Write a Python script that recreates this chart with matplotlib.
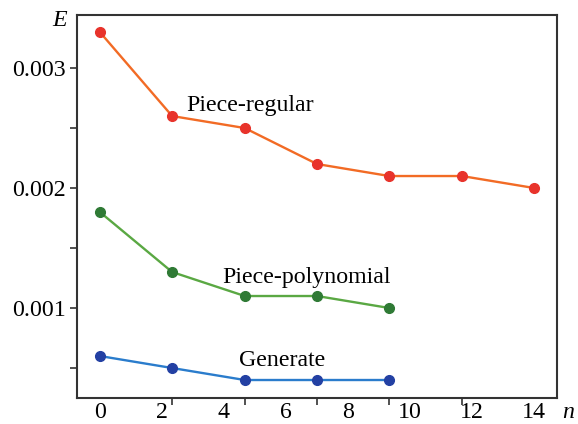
import numpy as np
import matplotlib
matplotlib.use("Agg")
import matplotlib.pyplot as plt

# point positions along n (seven evenly placed runs) and the values
n_points = [0, 2.33, 4.67, 7, 9.33, 11.67, 14]
e_regular = [0.0033, 0.0026, 0.0025, 0.0022, 0.0021, 0.0021, 0.0020]
e_polynomial = [0.0018, 0.0013, 0.0011, 0.0011, 0.0010]
e_generate = [0.0006, 0.0005, 0.0004, 0.0004, 0.0004]

x_labels = [0, 2, 4, 6, 8, 10, 12, 14]
y_ticks = [0.0005, 0.001, 0.0015, 0.002, 0.0025, 0.003]
y_labels = ["", "0.001", "", "0.002", "", "0.003"]

plt.rcParams["font.family"] = ["Liberation Serif", "DejaVu Serif"]
plt.rcParams["font.size"] = 17.2

fig = plt.figure(figsize=(5.78, 4.24), dpi=100)
ax = fig.add_axes([0.133, 0.0613, 0.831, 0.9033])

ax.plot(n_points, e_regular, "-", color="#f26b25", linewidth=1.7, zorder=2)
ax.plot(n_points, e_regular, "o", color="#e8332b", markersize=7, zorder=3)
ax.plot(n_points[:5], e_polynomial, "-", color="#5aa843", linewidth=1.7, zorder=2)
ax.plot(n_points[:5], e_polynomial, "o", color="#2f7a35", markersize=7, zorder=3)
ax.plot(n_points[:5], e_generate, "-", color="#2a7ccc", linewidth=1.7, zorder=2)
ax.plot(n_points[:5], e_generate, "o", color="#2340a3", markersize=7, zorder=3)

ax.text(2.8, 0.00260, "Piece-regular", ha="left", va="bottom")
ax.text(3.95, 0.00117, "Piece-polynomial", ha="left", va="bottom")
ax.text(4.5, 0.000475, "Generate", ha="left", va="bottom")

ax.set_xlim(-0.74, 14.74)
ax.set_ylim(0.00025, 0.003442)

ax.set_xticks(x_labels)
ax.set_xticklabels([str(v) for v in x_labels])
ax.set_xticks(n_points, minor=True)
ax.tick_params(axis="x", which="major", length=0, pad=3)
ax.tick_params(axis="x", which="minor", length=5, width=1.2, direction="out", color="#333333")

ax.set_yticks(y_ticks)
ax.set_yticklabels(y_labels)
ax.tick_params(axis="y", which="major", length=5, width=1.2, direction="out", color="#333333", pad=3)

for spine in ax.spines.values():
    spine.set_color("#333333")
    spine.set_linewidth(1.5)

fig.text(60 / 578, 1 - 20 / 424, "E", style="italic", ha="center", va="center")
fig.text(568 / 578, 1 - 412 / 424, "n", style="italic", ha="center", va="center")

fig.savefig("out.png", dpi=100)
plt.close(fig)
